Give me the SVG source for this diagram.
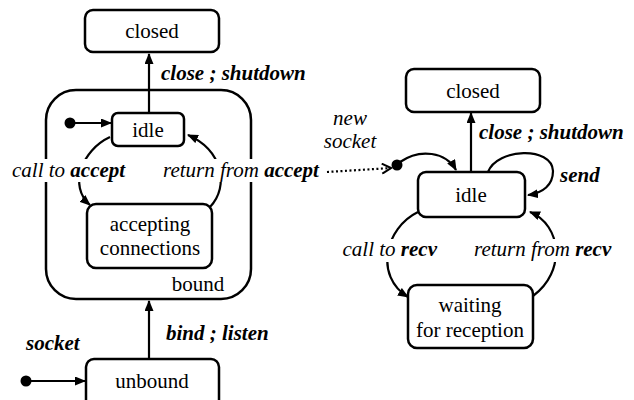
<svg xmlns="http://www.w3.org/2000/svg" width="634" height="400" viewBox="0 0 634 400" font-family="Liberation Serif, Times New Roman, serif" font-size="21">
<defs>
<marker id="ah" markerUnits="userSpaceOnUse" markerWidth="11" markerHeight="9" refX="10" refY="4.5" orient="auto">
<path d="M0,0 L11,4.5 L0,9 z" fill="#000"/>
</marker>
<marker id="open" markerUnits="userSpaceOnUse" markerWidth="12" markerHeight="12" refX="10" refY="6" orient="auto">
<path d="M1,1 L10,6 L1,11" fill="none" stroke="#000" stroke-width="2"/>
</marker>
</defs>
<style>
.box{fill:#fff;stroke:#000;stroke-width:2.5}
.c{text-anchor:middle}
.i{font-style:italic}
.b{font-weight:bold;font-style:italic}
.ln{fill:none;stroke:#000;stroke-width:2.2}
.bg{fill:#fff}
</style>
<rect width="634" height="400" fill="#fff"/>
<g id="bound">
<rect class="box" x="46" y="90" width="205" height="209" rx="30"/>
<text class="c" x="198" y="291">bound</text>
</g>
<g id="connectors">
<line class="ln" x1="149" y1="113" x2="149" y2="54" marker-end="url(#ah)"/>
<circle cx="70" cy="123" r="5.5"/>
<line class="ln" x1="70" y1="123" x2="111" y2="123" marker-end="url(#ah)"/>
<line class="ln" x1="149" y1="359" x2="149" y2="301" marker-end="url(#ah)"/>
<circle cx="26" cy="381" r="5.5"/>
<line class="ln" x1="26" y1="381" x2="85" y2="381" marker-end="url(#ah)"/>
<path class="ln" d="M110,137 C82,150 68,186 90,205" marker-end="url(#ah)"/>
<path class="ln" d="M210,207 C230,186 222,150 188,135" marker-end="url(#ah)"/>
<path class="ln" d="M327,172 L391,168" stroke-dasharray="2,2.5" stroke-width="2.5" marker-end="url(#open)"/>
<circle cx="397" cy="165" r="5.5"/>
<path class="ln" d="M400,162 C420,148 446,152 456,170" marker-end="url(#ah)"/>
<line class="ln" x1="471" y1="172" x2="471" y2="113" marker-end="url(#ah)"/>
<path class="ln" d="M488,172 C497,148 552,146 553,171 C553,185 543,193 528,195" marker-end="url(#ah)"/>
<path class="ln" d="M418,212 C385,228 374,276 408,297" marker-end="url(#ah)"/>
<path class="ln" d="M533,296 C566,272 562,225 530,212" marker-end="url(#ah)"/>
</g>
<g id="closedL">
<rect class="box" x="85" y="10" width="134" height="42" rx="8"/>
<text class="c" x="152" y="38">closed</text>
</g>
<g id="idleL">
<rect class="box" x="112" y="113" width="72" height="33" rx="6"/>
<text class="c" x="148" y="137">idle</text>
</g>
<g id="accepting">
<rect class="box" x="87" y="204" width="125" height="64" rx="9"/>
<text class="c" x="150" y="231">accepting</text>
<text class="c" x="150" y="255">connections</text>
</g>
<g id="unbound">
<rect class="box" x="86" y="359" width="133" height="50" rx="8"/>
<text class="c" x="152" y="388">unbound</text>
</g>
<g id="closedR">
<rect class="box" x="406" y="69" width="134" height="43" rx="8"/>
<text class="c" x="473" y="98">closed</text>
</g>
<g id="idleR">
<rect class="box" x="418" y="172" width="107" height="45" rx="8"/>
<text class="c" x="471" y="202">idle</text>
</g>
<g id="waiting">
<rect class="box" x="408" y="285" width="125" height="63" rx="9"/>
<text class="c" x="470" y="312">waiting</text>
<text class="c" x="470" y="337">for reception</text>
</g>
<g id="labels">
<text class="b" x="161" y="80">close ; shutdown</text>
<text class="b" x="479" y="139">close ; shutdown</text>
<rect class="bg" x="10" y="159" width="118" height="23"/>
<text x="12" y="177"><tspan class="i">call to </tspan><tspan class="b">accept</tspan></text>
<rect class="bg" x="161" y="159" width="163" height="23"/>
<text x="163" y="177"><tspan class="i">return from </tspan><tspan class="b">accept</tspan></text>
<text class="i c" x="350" y="125">new</text>
<text class="i c" x="350" y="148">socket</text>
<text class="b" x="560" y="182">send</text>
<rect class="bg" x="266" y="239" width="173" height="23"/>
<text x="437" y="256" text-anchor="end"><tspan class="i">call to </tspan><tspan class="b">recv</tspan></text>
<rect class="bg" x="472" y="239" width="146" height="23"/>
<text x="474" y="256"><tspan class="i">return from </tspan><tspan class="b">recv</tspan></text>
<text class="b" x="166" y="340">bind ; listen</text>
<text class="b" x="26" y="350">socket</text>
</g>
</svg>
